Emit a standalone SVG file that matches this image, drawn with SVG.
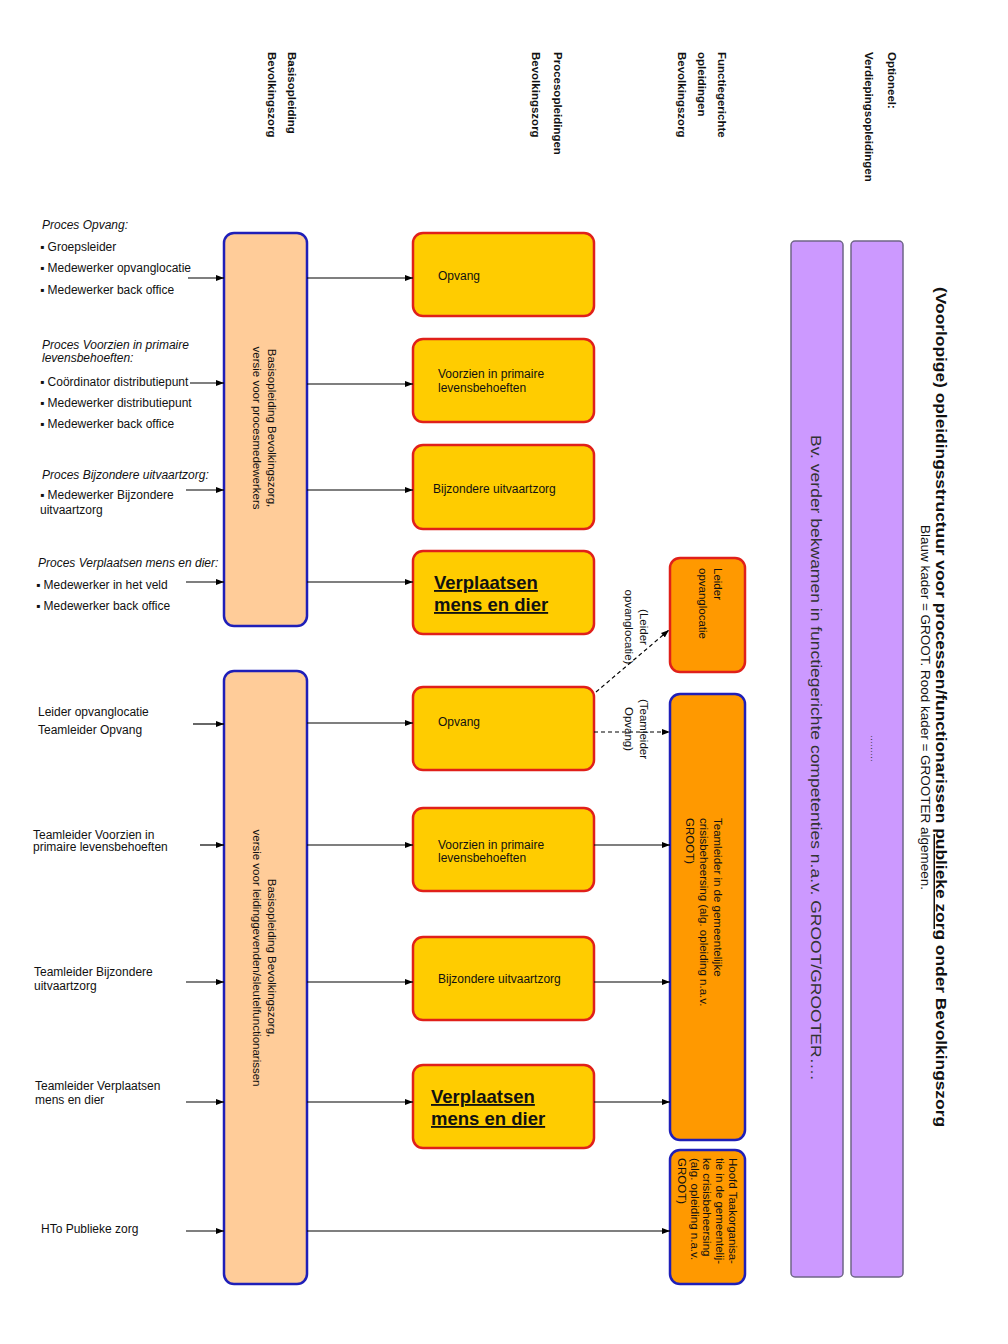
<svg xmlns="http://www.w3.org/2000/svg" width="1008" height="1344" viewBox="0 0 1008 1344">
<defs>
<marker id="ah" markerWidth="8" markerHeight="6" refX="8" refY="3" orient="auto" markerUnits="userSpaceOnUse">
<path d="M0,0 L8,3 L0,6 z" fill="#000"/>
</marker>
<style>
text{font-family:"Liberation Sans",Arial,sans-serif;fill:#111}
.hdr{font-size:11.5px;font-weight:bold}
.lbl{font-size:12px}
.it{font-size:12px;font-style:italic}
.rt{font-size:11.5px}
.big{font-size:18.5px;font-weight:bold;text-decoration:underline}
.basis{fill:#ffcc99;stroke:#1f1fb8;stroke-width:2.5}
.proc{fill:#ffcc00;stroke:#e0201a;stroke-width:2.5}
.orR{fill:#ff9900;stroke:#e0201a;stroke-width:2.5}
.orB{fill:#ff9900;stroke:#1f1fb8;stroke-width:2.5}
.purp{fill:#cc99ff;stroke:#6f6688;stroke-width:1.5}
.ln{stroke:#000;stroke-width:1.2;fill:none}
.dash{stroke:#000;stroke-width:1.2;fill:none;stroke-dasharray:4,3}
</style>
</defs>
<rect width="1008" height="1344" fill="#fff"/>

<g id="headers">
<text class="hdr" transform="translate(288,52) rotate(90)">Basisopleiding</text>
<text class="hdr" transform="translate(268,52) rotate(90)">Bevolkingszorg</text>
<text class="hdr" transform="translate(554,52) rotate(90)">Procesopleidingen</text>
<text class="hdr" transform="translate(532,52) rotate(90)">Bevolkingszorg</text>
<text class="hdr" transform="translate(718,52) rotate(90)">Functiegerichte</text>
<text class="hdr" transform="translate(698,52) rotate(90)">opleidingen</text>
<text class="hdr" transform="translate(678,52) rotate(90)">Bevolkingszorg</text>
<text class="hdr" transform="translate(888,52) rotate(90)">Optioneel:</text>
<text class="hdr" transform="translate(865,52) rotate(90)">Verdiepingsopleidingen</text>
</g>

<g id="title">
<text transform="translate(936,287) rotate(90)" style="font-size:15px;font-weight:bold" textLength="840" lengthAdjust="spacingAndGlyphs">(Voorlopige) opleidingsstructuur voor processen/functionarissen <tspan style="text-decoration:underline">publieke zorg</tspan> onder Bevolkingszorg</text>
<text transform="translate(921,525) rotate(90)" style="font-size:12px" textLength="365" lengthAdjust="spacingAndGlyphs">Blauw kader = GROOT. Rood kader = GROOTER algemeen.</text>
</g>

<g id="optional1">
<rect class="purp" x="791" y="241" width="52" height="1036" rx="4"/>
<text transform="translate(811,435) rotate(90)" style="font-size:15px;fill:#333" textLength="645" lengthAdjust="spacingAndGlyphs">Bv. verder bekwamen in functiegerichte competenties n.a.v. GROOT/GROOTER….</text>
</g>
<g id="optional2">
<rect class="purp" x="851" y="241" width="52" height="1036" rx="4"/>
<text transform="translate(871,735) rotate(90)" style="font-size:9px;fill:#333">………</text>
</g>

<g id="left-labels-upper">
<text class="it" x="42" y="229">Proces Opvang:</text>
<text class="lbl" x="40" y="251">▪ Groepsleider</text>
<text class="lbl" x="40" y="272">▪ Medewerker opvanglocatie</text>
<text class="lbl" x="40" y="294">▪ Medewerker back office</text>
<text class="it" x="42" y="349">Proces Voorzien in primaire</text>
<text class="it" x="42" y="362">levensbehoeften:</text>
<text class="lbl" x="40" y="386">▪ Coördinator distributiepunt</text>
<text class="lbl" x="40" y="407">▪ Medewerker distributiepunt</text>
<text class="lbl" x="40" y="428">▪ Medewerker back office</text>
<text class="it" x="42" y="479">Proces Bijzondere uitvaartzorg:</text>
<text class="lbl" x="40" y="499">▪ Medewerker Bijzondere</text>
<text class="lbl" x="40" y="514">uitvaartzorg</text>
<text class="it" x="38" y="567">Proces Verplaatsen mens en dier:</text>
<text class="lbl" x="36" y="589">▪ Medewerker in het veld</text>
<text class="lbl" x="36" y="610">▪ Medewerker back office</text>
</g>

<g id="left-labels-lower">
<text class="lbl" x="38" y="716">Leider opvanglocatie</text>
<text class="lbl" x="38" y="734">Teamleider Opvang</text>
<text class="lbl" x="33" y="839">Teamleider Voorzien in</text>
<text class="lbl" x="33" y="851">primaire levensbehoeften</text>
<text class="lbl" x="34" y="976">Teamleider Bijzondere</text>
<text class="lbl" x="34" y="990">uitvaartzorg</text>
<text class="lbl" x="35" y="1090">Teamleider Verplaatsen</text>
<text class="lbl" x="35" y="1104">mens en dier</text>
<text class="lbl" x="41" y="1233">HTo Publieke zorg</text>
</g>

<g id="basis-proces">
<rect class="basis" x="224" y="233" width="83" height="393" rx="10"/>
<text class="rt" text-anchor="middle" transform="translate(268,428) rotate(90)">Basisopleiding Bevolkingszorg,</text>
<text class="rt" text-anchor="middle" transform="translate(253,428) rotate(90)">versie voor procesmedewerkers</text>
</g>
<g id="basis-leiding">
<rect class="basis" x="224" y="671" width="83" height="613" rx="10"/>
<text class="rt" text-anchor="middle" transform="translate(268,958) rotate(90)">Basisopleiding Bevolkingszorg,</text>
<text class="rt" text-anchor="middle" transform="translate(253,958) rotate(90)">versie voor leidinggevenden/sleutelfunctionarissen</text>
</g>

<g id="p-opvang-1">
<rect class="proc" x="413" y="233" width="181" height="83" rx="10"/>
<text class="lbl" x="438" y="280">Opvang</text>
</g>
<g id="p-voorzien-1">
<rect class="proc" x="413" y="339" width="181" height="83" rx="10"/>
<text class="lbl" x="438" y="378">Voorzien in primaire</text>
<text class="lbl" x="438" y="392">levensbehoeften</text>
</g>
<g id="p-bijzondere-1">
<rect class="proc" x="413" y="445" width="181" height="84" rx="10"/>
<text class="lbl" x="433" y="493">Bijzondere uitvaartzorg</text>
</g>
<g id="p-verplaatsen-1">
<rect class="proc" x="413" y="551" width="181" height="83" rx="10"/>
<text class="big" x="434" y="589">Verplaatsen</text>
<text class="big" x="434" y="611">mens en dier</text>
</g>
<g id="p-opvang-2">
<rect class="proc" x="413" y="687" width="181" height="83" rx="10"/>
<text class="lbl" x="438" y="726">Opvang</text>
</g>
<g id="p-voorzien-2">
<rect class="proc" x="413" y="808" width="181" height="83" rx="10"/>
<text class="lbl" x="438" y="849">Voorzien in primaire</text>
<text class="lbl" x="438" y="862">levensbehoeften</text>
</g>
<g id="p-bijzondere-2">
<rect class="proc" x="413" y="937" width="181" height="83" rx="10"/>
<text class="lbl" x="438" y="983">Bijzondere uitvaartzorg</text>
</g>
<g id="p-verplaatsen-2">
<rect class="proc" x="413" y="1065" width="181" height="83" rx="10"/>
<text class="big" x="431" y="1103">Verplaatsen</text>
<text class="big" x="431" y="1125">mens en dier</text>
</g>

<g id="f-leider">
<rect class="orR" x="670" y="558" width="75" height="114" rx="10"/>
<text class="rt" transform="translate(714,568) rotate(90)">Leider</text>
<text class="rt" transform="translate(699,568) rotate(90)">opvanglocatie</text>
</g>
<g id="f-teamleider">
<rect class="orB" x="670" y="694" width="75" height="446" rx="10"/>
<text class="rt" transform="translate(714,818) rotate(90)">Teamleider in de gemeentelijke</text>
<text class="rt" transform="translate(700,818) rotate(90)">crisisbeheersing (alg. opleiding n.a.v.</text>
<text class="rt" transform="translate(686,818) rotate(90)">GROOT)</text>
</g>
<g id="f-hoofd">
<rect class="orB" x="670" y="1150" width="75" height="134" rx="10"/>
<text class="rt" transform="translate(729,1158) rotate(90)">Hoofd Taakorganisa-</text>
<text class="rt" transform="translate(716,1158) rotate(90)">tie in de gemeentelij-</text>
<text class="rt" transform="translate(703,1158) rotate(90)">ke crisisbeheersing</text>
<text class="rt" transform="translate(691,1158) rotate(90)">(alg. opleiding n.a.v.</text>
<text class="rt" transform="translate(678,1158) rotate(90)">GROOT)</text>
</g>

<g id="connectors">
<line class="ln" x1="188" y1="278" x2="224" y2="278" marker-end="url(#ah)"/>
<line class="ln" x1="190" y1="383" x2="224" y2="383" marker-end="url(#ah)"/>
<line class="ln" x1="186" y1="490" x2="224" y2="490" marker-end="url(#ah)"/>
<line class="ln" x1="186" y1="582" x2="224" y2="582" marker-end="url(#ah)"/>
<line class="ln" x1="307" y1="278" x2="413" y2="278" marker-end="url(#ah)"/>
<line class="ln" x1="307" y1="384" x2="413" y2="384" marker-end="url(#ah)"/>
<line class="ln" x1="307" y1="490" x2="413" y2="490" marker-end="url(#ah)"/>
<line class="ln" x1="307" y1="582" x2="413" y2="582" marker-end="url(#ah)"/>
<line class="ln" x1="193" y1="724" x2="224" y2="724" marker-end="url(#ah)"/>
<line class="ln" x1="200" y1="845" x2="224" y2="845" marker-end="url(#ah)"/>
<line class="ln" x1="186" y1="982" x2="224" y2="982" marker-end="url(#ah)"/>
<line class="ln" x1="186" y1="1102" x2="224" y2="1102" marker-end="url(#ah)"/>
<line class="ln" x1="186" y1="1231" x2="224" y2="1231" marker-end="url(#ah)"/>
<line class="ln" x1="307" y1="723" x2="413" y2="723" marker-end="url(#ah)"/>
<line class="ln" x1="307" y1="845" x2="413" y2="845" marker-end="url(#ah)"/>
<line class="ln" x1="307" y1="982" x2="413" y2="982" marker-end="url(#ah)"/>
<line class="ln" x1="307" y1="1102" x2="413" y2="1102" marker-end="url(#ah)"/>
<line class="ln" x1="307" y1="1231" x2="670" y2="1231" marker-end="url(#ah)"/>
<line class="ln" x1="594" y1="845" x2="670" y2="845" marker-end="url(#ah)"/>
<line class="ln" x1="594" y1="982" x2="670" y2="982" marker-end="url(#ah)"/>
<line class="ln" x1="594" y1="1102" x2="670" y2="1102" marker-end="url(#ah)"/>
<line class="dash" x1="596" y1="692" x2="669" y2="630" marker-end="url(#ah)"/>
<line class="dash" x1="594" y1="732" x2="670" y2="732" marker-end="url(#ah)"/>
<text class="rt" text-anchor="middle" transform="translate(640,627) rotate(90)">(Leider</text>
<text class="rt" text-anchor="middle" transform="translate(625,627) rotate(90)">opvanglocatie)</text>
<text class="rt" text-anchor="middle" transform="translate(640,729) rotate(90)">(Teamleider</text>
<text class="rt" text-anchor="middle" transform="translate(625,729) rotate(90)">Opvang)</text>
</g>
</svg>
